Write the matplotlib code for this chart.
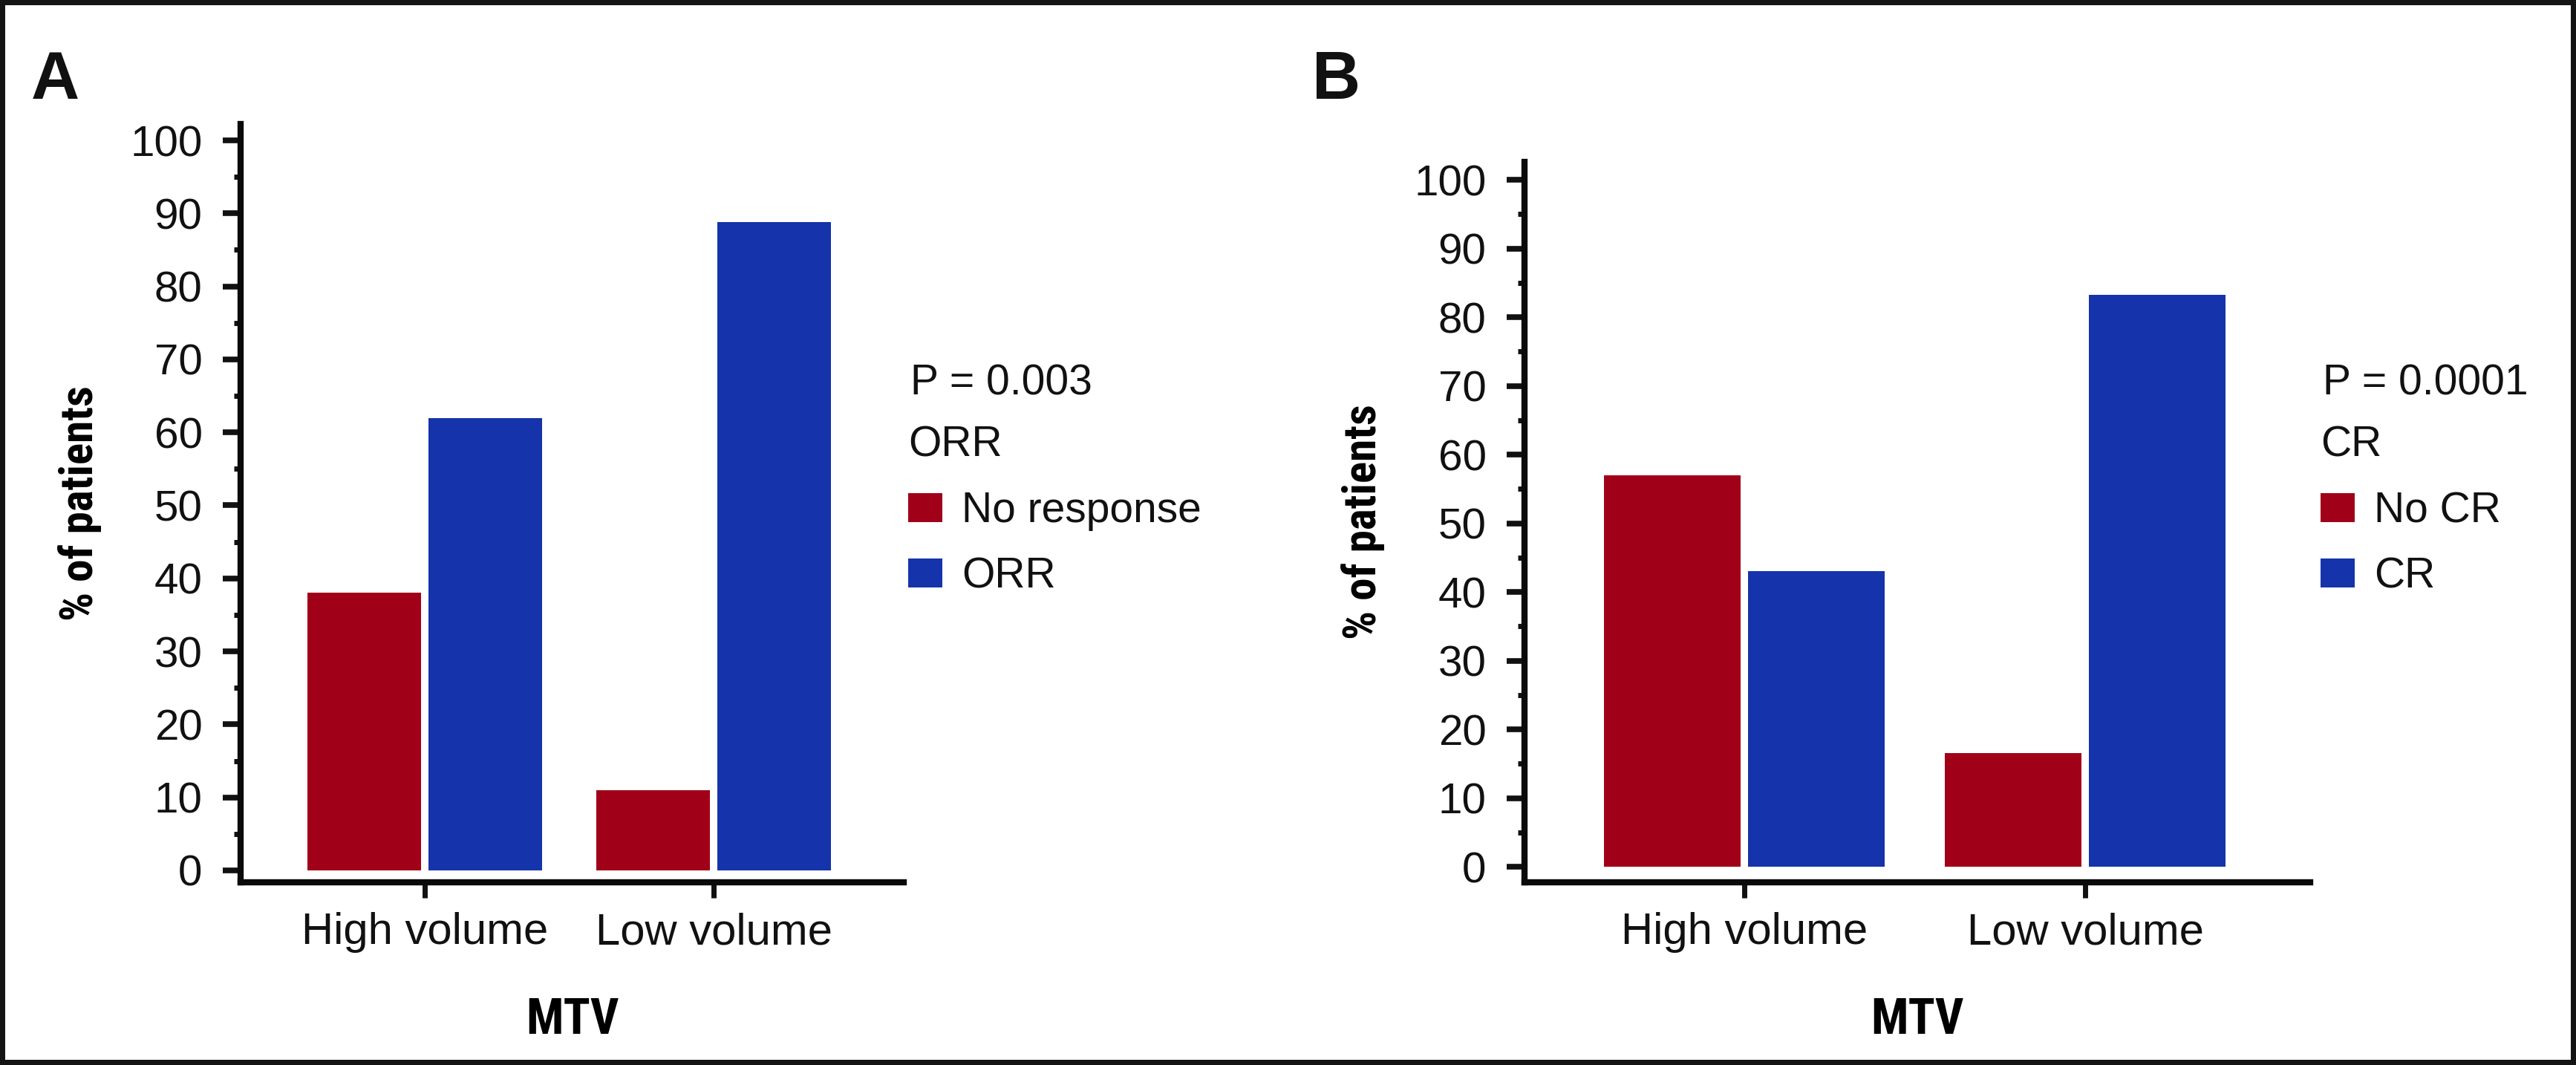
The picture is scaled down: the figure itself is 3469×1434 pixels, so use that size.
import numpy as np
import matplotlib
matplotlib.use('Agg')
import matplotlib.pyplot as plt
from matplotlib import font_manager
from matplotlib.ticker import MultipleLocator

# данные
groups = ['High volume', 'Low volume']
orr_labels = ['No response', 'ORR']
orr_no = [38, 11]
orr_yes = [62, 88.8]
cr_labels = ['No CR', 'CR']
cr_no = [57, 16.5]
cr_yes = [43, 83.3]

RED = '#A10019'
BLUE = '#1533AA'
INK = '#111111'
W, H = 3469, 1434

# узкий жирный шрифт для подписей осей, если есть
names = {f.name for f in font_manager.fontManager.ttflist}
narrow = next((n for n in ['Liberation Sans Narrow', 'Roboto Condensed',
                           'Open Sans Condensed', 'DejaVu Sans Condensed'] if n in names),
              'Liberation Sans')
cond = 1.0 if narrow != 'Liberation Sans' else 0.85

plt.rcParams['font.family'] = ['Liberation Sans', 'DejaVu Sans']
plt.rcParams['text.color'] = INK
plt.rcParams['xtick.color'] = INK
plt.rcParams['ytick.color'] = INK


def draw_panel(rect, no_vals, yes_vals, labels, title, pval, letter, letter_x,
               xlim, ylim, width, off, leg_x, ylab_x, xlab_y):
    ax = fig.add_axes(rect)
    x = np.arange(len(groups))
    ax.bar(x - off, no_vals, width=width, color=RED, label=labels[0])
    ax.bar(x + off, yes_vals, width=width, color=BLUE, label=labels[1])
    ax.set_xlim(*xlim)
    ax.set_ylim(*ylim)

    ax.spines[['top', 'right']].set_visible(False)
    for s in ['left', 'bottom']:
        ax.spines[s].set_linewidth(6)
        ax.spines[s].set_color('#0a0a0a')

    ax.set_xticks(x, groups)
    ax.yaxis.set_major_locator(MultipleLocator(10))
    ax.yaxis.set_minor_locator(MultipleLocator(5))
    ax.tick_params(axis='y', which='major', length=17, width=5.5, pad=20, labelsize=42)
    ax.tick_params(axis='y', which='minor', length=6.5, width=5)
    ax.tick_params(axis='x', length=15, width=5, pad=14, labelsize=43)

    ax.set_ylabel('% of patients', family=[narrow, 'DejaVu Sans'], weight='bold',
                  fontsize=44 * cond, va='baseline')
    ax.yaxis.set_label_coords(ylab_x, 0.5)
    ax.set_xlabel('MTV', family=[narrow, 'DejaVu Sans'], weight='bold',
                  fontsize=48 * cond, va='baseline')
    ax.xaxis.set_label_coords(0.5, xlab_y)

    ax.legend(loc='upper left', bbox_to_anchor=(leg_x / W, 1 - 573 / H),
              bbox_transform=fig.transFigure, frameon=False, title=title,
              alignment='left', fontsize=41, title_fontsize=41, borderpad=0,
              borderaxespad=0, handlelength=0.81, handleheight=0.67,
              handletextpad=0.46, labelspacing=0.6)
    fig.text((leg_x + 3) / W, 1 - 531 / H, pval, fontsize=41, va='baseline')
    fig.text(letter_x / W, 1 - 67 / H, letter, fontsize=65, weight='bold', va='top')
    return ax


fig = plt.figure(figsize=(W / 100, H / 100), dpi=100)
fig.patch.set_edgecolor('#141414')
fig.patch.set_linewidth(10)

draw_panel([324 / W, 1 - 1188 / H, 893 / W, 1021 / H], orr_no, orr_yes, orr_labels,
           'ORR', 'P = 0.003', 'A', 42, (-0.638, 1.658), (-1.63, 102.24), 0.394, 0.21,
           1223, -0.2228, -0.1998)
draw_panel([2053 / W, 1 - 1188 / H, 1058 / W, 970 / H], cr_no, cr_yes, cr_labels,
           'CR', 'P = 0.0001', 'B', 1767, (-0.645, 1.660), (-2.27, 102.6), 0.401, 0.2113,
           3125, -0.189, -0.2103)

fig.savefig('out.png', dpi=100, facecolor='white', edgecolor=fig.patch.get_edgecolor())
